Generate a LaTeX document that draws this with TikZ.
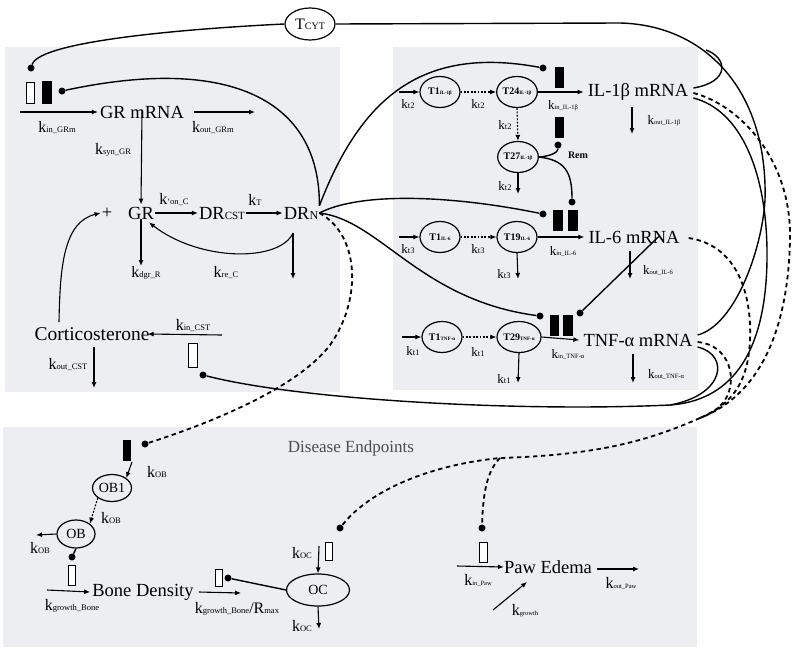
\documentclass[tikz,border=0pt]{standalone}
\usepackage{fontspec}
\setmainfont{Liberation Serif}
\usetikzlibrary{shapes.geometric,arrows.meta}
\definecolor{panel}{RGB}{236,238,242}
\newcommand{\rk}[1]{k{\fontsize{8.5}{9}\selectfont #1}}
\newcommand{\rks}[1]{k{\fontsize{6.5}{7}\selectfont #1}}
\newcommand{\tn}[2]{\textbf{#1}{\fontsize{5}{5}\selectfont\bfseries #2}}
\begin{document}
\begin{tikzpicture}[x=1pt,y=-1pt,
  big/.style={font=\fontsize{18.5}{20}\selectfont, inner sep=1pt},
  rate/.style={font=\fontsize{16}{17}\selectfont, inner sep=0pt},
  srate/.style={font=\fontsize{13}{14}\selectfont, inner sep=0pt},
  arr/.style={-{Latex[length=6pt,width=5pt]}, line width=1.1pt},
  dotarr/.style={arr, dash pattern=on 1.8pt off 1.6pt},
  con/.style={line width=1.4pt},
  dcon/.style={line width=1.8pt, dash pattern=on 4.5pt off 3.5pt},
  tell/.style={draw, ellipse, line width=1.2pt, minimum width=40pt, minimum height=31pt, inner sep=0pt, font=\fontsize{10}{10}\selectfont},
  oell/.style={draw, ellipse, line width=1.2pt, inner sep=0pt, font=\fontsize{14}{14}\selectfont},
  obar/.style={draw, line width=0.9pt, fill=white, inner sep=0pt, minimum width=8pt, minimum height=21pt},
  fbar/.style={draw, fill=black, inner sep=0pt, minimum width=8pt, minimum height=20pt},
  pt/.style={fill=black, circle, inner sep=0pt, minimum size=7pt},
]
\useasboundingbox (0,0) rectangle (800,653);
% panels
\fill[panel] (5,47) rectangle (340,392);
\fill[panel] (393,47) rectangle (698,390);
\fill[panel] (3,427) rectangle (697,647);

% ---------------- left panel ----------------
\node[big] (grm) at (142,112) {GR mRNA};
\node[big] (gr) at (141,213) {GR};
\node[big] (plus) at (107,213) {+};
\node[big] (drcst) at (222,213) {DR{\fontsize{11}{12}\selectfont CST}};
\node[big] (drn) at (301,213) {DR{\fontsize{12}{12}\selectfont N}};
\node[big, font=\fontsize{19.5}{21}\selectfont] (cst) at (92,334) {Corticosterone};

\node[obar] (bgo) at (30.5,92.5) {};
\node[fbar, minimum width=9pt, minimum height=22pt] (bgf) at (46.5,92.5) {};
\node[obar, minimum width=9pt, minimum height=24pt] (bcst) at (192.5,355) {};

\node[pt] (dgo) at (31,68) {};
\node[pt] (dgf) at (62,91) {};
\node[pt] (dcst) at (203,375) {};

\coordinate (grmin) at (20,112);
\coordinate (grmout) at (255,112);
\draw[arr] (grmin) -- ([xshift=-1pt]grm.west);
\draw[arr] ([xshift=9pt]grm.east) -- (grmout);
\draw[arr] ([yshift=8pt]grm.south) -- ([yshift=1pt]gr.north);
\draw[arr] (gr.east) -- (drcst.west);
\draw[arr] (drcst.east) -- (drn.west);
\coordinate (grdeg) at (141,266);
\draw[arr] ([yshift=1pt]gr.south) -- (grdeg);
\coordinate (drnb) at (293,233);
\coordinate (drndeg) at (293,279);
\draw[arr] (drnb) -- (drndeg);
\draw[arr] (drnb) .. controls (280,262) and (200,262) .. ([shift={(8,2)}]gr.south);
\coordinate (cstup) at (59,322);
\draw[arr] (cstup) .. controls (60,265) and (64,222) .. (plus.west);
\coordinate (cstin) at (222,335);
\draw[arr] (cstin) -- ([xshift=-3pt]cst.east);
\coordinate (cstout) at (94,388);
\draw[arr] (94,347) -- (cstout);

\node[rate] at (57,127) {\rk{in\_GRm}};
\node[rate] at (213,127) {\rk{out\_GRm}};
\node[rate] at (113,150) {\rk{syn\_GR}};
\node[rate] at (174,199) {\rk{‘on\_C}};
\node[rate] at (255,200) {\rk{T}};
\node[rate] at (146,273) {\rk{dgr\_R}};
\node[rate] at (226,272) {\rk{re\_C}};
\node[rate] at (193,325) {\rk{in\_CST}};
\node[rate] at (68,364) {\rk{out\_CST}};

% ---------------- right panel ----------------
\node[tell] (t1a) at (440,92) {\tn{T1}{IL-1β}};
\node[tell] (t24) at (517,92) {\tn{T24}{IL-1β}};
\node[tell] (t27) at (518,157) {\tn{T27}{IL-1β}};
\node[tell] (t1b) at (440,237) {\tn{T1}{IL-6}};
\node[tell] (t19) at (517,237) {\tn{T19}{IL-6}};
\node[tell] (t1c) at (442,337) {\tn{T1}{TNF-α}};
\node[tell] (t29) at (519,337) {\tn{T29}{TNF-α}};

\node[big] (il1) at (638,92) {IL-1β mRNA};
\node[big] (il6) at (634,237) {IL-6 mRNA};
\node[big] (tnf) at (638,340) {TNF-α mRNA};

\node[fbar] (b1t) at (559,77) {};
\node[fbar] (b1b) at (559,127) {};
\node[fbar, minimum width=9pt] (b6a) at (557.5,220) {};
\node[fbar, minimum width=9pt] (b6b) at (572.5,220) {};
\node[fbar] (bta) at (554,325) {};
\node[fbar, minimum width=9pt] (btb) at (567.5,325) {};

\node[pt] (d1t) at (543,68) {};
\node[pt] (d1b) at (558,145) {};
\node[pt] (d6a) at (543,214) {};
\node[pt] (d6b) at (572,202) {};
\node[pt] (dta) at (540,316) {};
\node[pt] (dtb) at (580,313) {};

\coordinate (i1) at (399,92);
\coordinate (i2) at (399,237);
\coordinate (i3) at (402,337);
\draw[arr] (i1) -- (t1a.west);
\draw[dotarr] (t1a.east) -- (t24.west);
\draw[arr] (t24.east) -- ([xshift=-3pt]il1.west);
\draw[dotarr] (t24.south) -- (t27.north);
\coordinate (o27) at (518,194);
\draw[arr] (t27.south) -- (o27);
\coordinate (oil1) at (632,134);
\draw[arr] (632,107) -- (oil1);

\draw[arr] (i2) -- (t1b.west);
\draw[dotarr] (t1b.east) -- (t19.west);
\draw[arr] (t19.east) -- ([xshift=-3pt]il6.west);
\coordinate (o19) at (518,279);
\draw[arr] (t19.south) -- (o19);
\coordinate (oil6) at (630,279);
\draw[arr] (630,251) -- (oil6);

\draw[arr] (i3) -- (t1c.west);
\draw[dotarr] (t1c.east) -- (t29.west);
\draw[arr] (t29.east) -- ([xshift=-3pt]tnf.west);
\coordinate (o29) at (518,383);
\draw[arr] (t29.south) -- (o29);
\coordinate (otnf) at (633,383);
\draw[arr] (633,354) -- (otnf);

\node[srate] at (408,104) {\rk{t2}};
\node[srate] at (478,104) {\rk{t2}};
\node[srate] at (505,125) {\rk{t2}};
\node[srate] at (505,186) {\rk{t2}};
\node[srate] at (563,106) {\rks{in\_IL-1β}};
\node[srate] at (664,121) {\rks{out\_IL-1β}};
\node[font=\bfseries\fontsize{10}{10}\selectfont] (rem) at (578,155) {Rem};
\node[srate] at (408,249) {\rk{t3}};
\node[srate] at (478,249) {\rk{t3}};
\node[srate] at (504,274) {\rk{t3}};
\node[srate] at (563,251) {\rks{in\_IL-6}};
\node[srate] at (658,270) {\rks{out\_IL-6}};
\node[srate] at (413,351) {\rk{t1}};
\node[srate] at (478,352) {\rk{t1}};
\node[srate] at (504,379) {\rk{t1}};
\node[srate] at (568,354) {\rks{in\_TNF-α}};
\node[srate] at (666,374) {\rks{out\_TNF-α}};

\draw[con] (t27.east) .. controls (552,156) and (558,152) .. (d1b);
\draw[con] (t27.east) .. controls (565,160) and (572,172) .. (d6b);
\draw[con] ([shift={(-22,7)}]il6.north east) -- (dtb);

% ---------------- bottom panel ----------------
\node[font=\fontsize{17}{18}\selectfont, text=black!70] (de) at (351,448) {Disease Endpoints};
\node[oell, minimum width=39pt, minimum height=27pt] (ob1) at (112,488) {OB1};
\node[oell, minimum width=38pt, minimum height=28pt] (ob) at (76,534) {OB};
\node[oell, minimum width=63pt, minimum height=32pt] (oc) at (318,590) {OC};
\node[big] (bone) at (143,592) {Bone Density};
\node[big] (paw) at (548,567) {Paw Edema};

\node[fbar, minimum width=7pt] (bob) at (126.5,450) {};
\node[obar, minimum width=7pt, minimum height=20pt] (bbone) at (71.5,575) {};
\node[obar, minimum width=7pt, minimum height=17pt] (bbo) at (218.5,578) {};
\node[obar, minimum width=7pt, minimum height=18pt] (boc) at (328.5,551) {};
\node[obar, minimum width=8pt, minimum height=20pt] (bpaw) at (483,552) {};

\node[pt] (dob) at (145,444) {};
\node[pt] (dbone) at (72,557) {};
\node[pt] (dbo) at (228,578) {};
\node[pt] (doc) at (340,528) {};
\node[pt] (dpaw) at (482,528) {};

\draw[arr] (132,462) -- (ob1.north east);
\draw[dotarr] (ob1.south west) -- (ob.north east);
\coordinate (obo) at (36,535);
\draw[arr] (ob.west) -- (obo);
\draw[con] (ob.south) -- (dbone);
\coordinate (bin) at (47,590);
\draw[arr] (bin) -- ([xshift=-1pt]bone.west);
\coordinate (bout) at (241,593);
\draw[arr] ([xshift=4pt]bone.east) -- (bout);
\draw[con] (dbo) -- (oc.west);
\coordinate (ocin) at (319,546);
\draw[arr] (ocin) -- (oc.north);
\coordinate (ocout) at (319,629);
\draw[arr] (oc.south) -- (ocout);
\coordinate (pin) at (457,566);
\draw[arr] (pin) -- ([xshift=1pt]paw.west);
\coordinate (pout) at (639,569);
\draw[arr] ([xshift=4pt,yshift=-2pt]paw.east) -- (pout);
\coordinate (pg) at (493,610);
\draw[arr] (pg) -- (527,582);

\node[rate] at (157,472) {\rk{OB}};
\node[rate] at (111,518) {\rk{OB}};
\node[rate] at (40,548) {\rk{OB}};
\node[rate] at (72,606) {\rk{growth\_Bone}};
\node[rate] at (237,609) {\rk{growth\_Bone}/R{\fontsize{8.5}{9}\selectfont max}};
\node[rate] at (302,553) {\rk{OC}};
\node[rate] at (302,626) {\rk{OC}};
\node[rate] at (478,580) {\rks{in\_Paw}};
\node[rate] at (621,583) {\rks{out\_Paw}};
\node[rate] at (525,611) {\rks{growth}};

% ---------------- T_CYT and long connectors ----------------
\node[draw, ellipse, line width=1.2pt, minimum width=50pt, minimum height=32pt, inner sep=0pt] (tcyt) at (310,24) {{\fontsize{16}{16}\selectfont T}{\fontsize{10}{10}\selectfont CYT}};

\draw[con] (tcyt.west) .. controls (200,28) and (40,40) .. (dgo);
\draw[con] (drn.north east) .. controls (320,100) and (230,55) .. (dgf);
\draw[con] (drn.north east) .. controls (360,100) and (420,45) .. (d1t);
\draw[con] (drn.east) .. controls (360,192) and (450,195) .. (d6a);
\draw[con] (drn.east) .. controls (380,220) and (420,300) .. (dta);
\draw[dcon] (drn.east) .. controls (360,235) and (362,300) .. (330,345) .. controls (300,385) and (220,420) .. (dob);

\draw[con] (tcyt.east) -- (620,23) .. controls (705,25) and (768,90) .. (765,200) .. controls (762,250) and (735,325) .. ([shift={(4,-5)}]tnf.east);
\draw[con] ([shift={(4,-4)}]il1.east) .. controls (730,82) and (728,58) .. (706,50);
\draw[con] ([shift={(4,6)}]il1.east) .. controls (740,110) and (766,170) .. (767,250) .. controls (768,340) and (740,400) .. (670,405) .. controls (520,412) and (300,400) .. (dcst);
\draw[con] ([shift={(4,7)}]tnf.east) .. controls (730,355) and (725,395) .. (670,405);

\draw[dcon] ([shift={(4,1)}]il1.east) .. controls (740,105) and (792,160) .. (790,240) .. controls (788,330) and (760,395) .. (700,418);
\draw[dcon] ([shift={(8,1)}]il6.east) .. controls (735,245) and (752,290) .. (750,340) .. controls (748,385) and (730,405) .. (700,418);
\draw[dcon] ([shift={(4,2)}]tnf.east) .. controls (730,345) and (738,380) .. (725,400) .. controls (718,410) and (710,414) .. (700,418);
\draw[dcon] (700,418) .. controls (650,440) and (600,455) .. (500,458) .. controls (430,465) and (370,490) .. (doc);
\draw[dcon] (500,458) .. controls (488,470) and (483,490) .. (dpaw);
\end{tikzpicture}
\end{document}
